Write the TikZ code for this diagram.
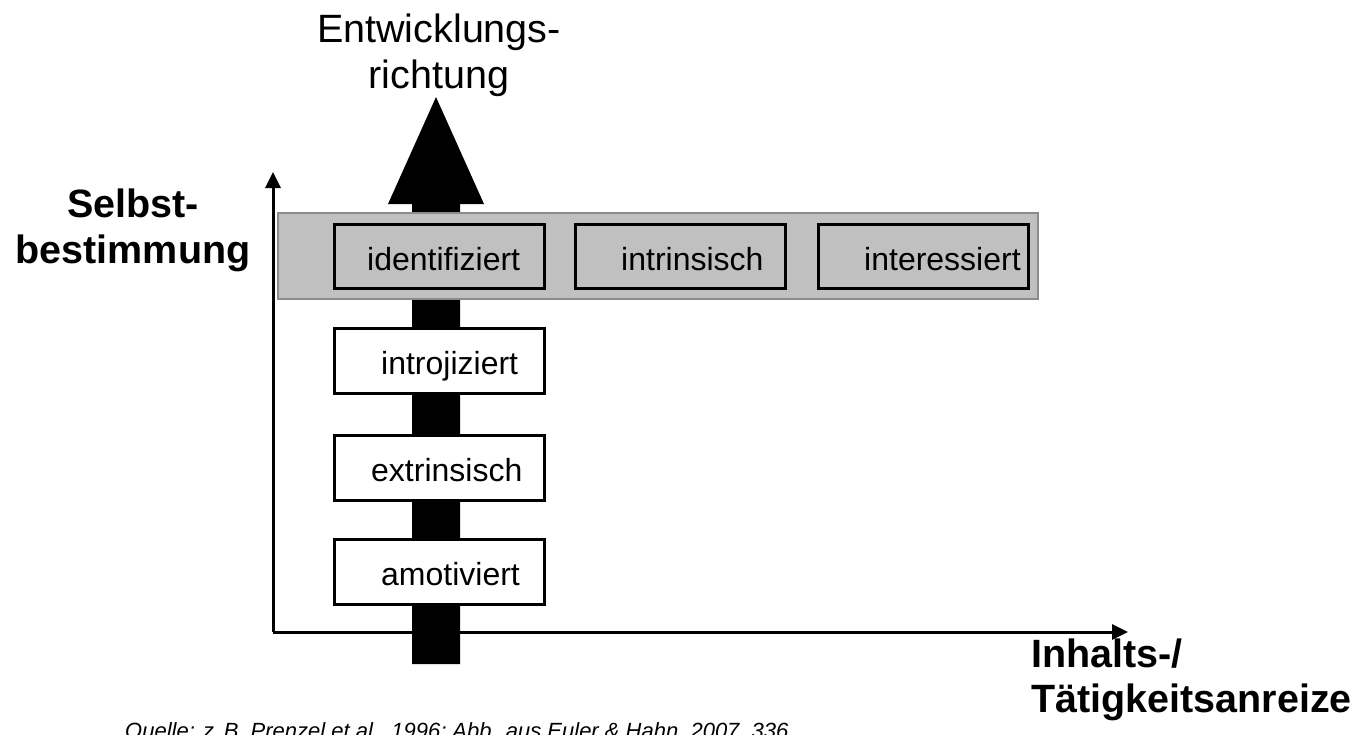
\documentclass[tikz,border=0pt]{standalone}
\usepackage{fontspec}
\setmainfont{Liberation Sans}
\usetikzlibrary{arrows.meta}
\definecolor{bandgray}{RGB}{192,192,192}
\definecolor{bandedge}{RGB}{140,140,140}
\begin{document}
\begin{tikzpicture}[x=1pt,y=-1pt,
  axis/.style={line width=3pt,-{Triangle[length=16pt,width=15pt]}},
  band/.style={fill=bandgray,draw=bandedge,line width=1.5pt},
  topbox/.style={draw=black,line width=3pt,fill=bandgray,minimum width=210pt,minimum height=64pt,inner sep=0pt,anchor=north west},
  lowbox/.style={draw=black,line width=2.5pt,fill=white,minimum width=210pt,minimum height=65pt,inner sep=0pt,anchor=north west},
  boxtext/.style={anchor=base west,inner sep=0pt,font=\fontsize{32}{38}\selectfont},
  axlabel/.style={font=\bfseries\fontsize{39.5}{46}\selectfont,inner sep=0pt,align=center,anchor=base},
  dirlabel/.style={font=\fontsize{39.5}{46}\selectfont,inner sep=0pt,align=center,anchor=base},
]
\useasboundingbox (0,0) rectangle (1359,734);
% axes
\coordinate (origin) at (273,632);
\coordinate (ytip) at (273,172);
\coordinate (xtip) at (1128,632);
\draw[axis] (origin) -- (ytip);
\draw[axis] (origin) -- (xtip);
% big development arrow
\fill[black] (412,664) -- (412,204) -- (388,204) -- (436,97) -- (484,204) -- (460,204) -- (460,664) -- cycle;
% band
\node[band,minimum width=760pt,minimum height=86pt,inner sep=0pt,anchor=north west] (band) at (277,212) {};
% boxes
\node[topbox] (ident) at (333,223) {};
\node[topbox] (intr) at (574,223) {};
\node[topbox] (inter) at (817,223) {};
\node[lowbox] (intro) at (333,327) {};
\node[lowbox] (extr) at (333,434) {};
\node[lowbox] (amot) at (333,538) {};
\node[boxtext] (identt) at ([xshift=34pt,yshift=-14pt]ident.west) {identifiziert};
\node[boxtext] (intrt) at ([xshift=47pt,yshift=-14pt]intr.west) {intrinsisch};
\node[boxtext] (intert) at ([xshift=47pt,yshift=-14pt]inter.west) {interessiert};
\node[boxtext] (introt) at ([xshift=48pt,yshift=-14pt]intro.west) {introjiziert};
\node[boxtext] (extrt) at ([xshift=38pt,yshift=-14pt]extr.west) {extrinsisch};
\node[boxtext] (amott) at ([xshift=48pt,yshift=-14pt]amot.west) {amotiviert};
% labels
\node[dirlabel] (dir) at (439,88) {Entwicklungs-\\richtung};
\node[axlabel] (selbst) at (133,263) {Selbst-\\bestimmung};
\node[font=\bfseries\fontsize{39.5}{45}\selectfont,inner sep=0pt,align=left,anchor=base west] (inhalt) at (1031,712) {Inhalts-/\\Tätigkeitsanreize};
\node[font=\itshape\fontsize{22}{26}\selectfont,inner sep=0pt,anchor=base west] (src) at (125,738) {Quelle: z.\,B. Prenzel et al., 1996; Abb. aus Euler \& Hahn, 2007, 336};
\end{tikzpicture}
\end{document}
